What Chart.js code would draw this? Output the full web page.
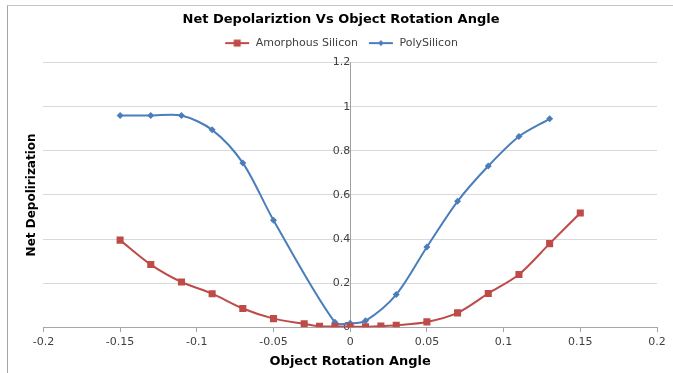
<!DOCTYPE html>
<html>
<head>
<meta charset="utf-8">
<script src="https://cdn.jsdelivr.net/npm/chart.js@4/dist/chart.umd.min.js"></script>
<style>
  html, body { margin: 0; padding: 0; background: #fff; }
  #wrap { position: relative; width: 673px; height: 373px; overflow: hidden; }
  #frame { position: absolute; left: 7px; top: 5px; width: 700px; height: 400px;
           border-left: 1px solid #a6a6a6; border-top: 1px solid #c4c4c4; }
  canvas { position: absolute; left: 0; top: 0; }
</style>
</head>
<body>
<div id="wrap">
  <div id="frame"></div>
  <canvas id="myChart" width="673" height="373"></canvas>
</div>
<script>
// ---------------- data ----------------
var amorphAngles = [-0.15, -0.13, -0.11, -0.09, -0.07, -0.05, -0.03, -0.02, -0.01, 0, 0.01, 0.02, 0.03, 0.05, 0.07, 0.09, 0.11, 0.13, 0.15];
var amorphValues = [0.395, 0.284, 0.205, 0.152, 0.085, 0.039, 0.015, 0.004, 0.003, 0.003, 0.002, 0.005, 0.009, 0.024, 0.065, 0.153, 0.239, 0.379, 0.518];

var polyAngles = [-0.15, -0.13, -0.11, -0.09, -0.07, -0.05, -0.01, 0, 0.01, 0.03, 0.05, 0.07, 0.09, 0.11, 0.13];
var polyValues = [0.96, 0.96, 0.96, 0.895, 0.745, 0.485, 0.022, 0.018, 0.029, 0.148, 0.364, 0.571, 0.731, 0.865, 0.945];

var seriesNames = ['Amorphous Silicon', 'PolySilicon'];
var xTicks = [-0.2, -0.15, -0.1, -0.05, 0, 0.05, 0.1, 0.15, 0.2];
var yTicks = [0, 0.2, 0.4, 0.6, 0.8, 1, 1.2];

var red = '#be4b48';
var blue = '#4a7ebb';
var font = 'DejaVu Sans';

function toPoints(xs, ys) {
  return xs.map(function (x, i) { return { x: x, y: ys[i] }; });
}

// legend sample: short line with the marker on it
function legendIcon(color, square) {
  var c = document.createElement('canvas');
  c.width = 26; c.height = 10;
  var g = c.getContext('2d');
  g.strokeStyle = color; g.lineWidth = 2;
  g.beginPath(); g.moveTo(1, 5); g.lineTo(25, 5); g.stroke();
  g.fillStyle = color;
  if (square) {
    g.fillRect(9.5, 1.5, 7, 7);
  } else {
    g.beginPath(); g.moveTo(13, 2); g.lineTo(16, 5); g.lineTo(13, 8); g.lineTo(10, 5); g.closePath(); g.fill();
  }
  return c;
}
var icons = [legendIcon(red, true), legendIcon(blue, false)];

// a little more room under the legend
var legendGap = {
  id: 'legendGap',
  beforeInit: function (chart) {
    var fit = chart.legend.fit;
    chart.legend.fit = function () {
      fit.call(this);
      this.height += 4;
    };
  },
};

const pickChart = document.getElementById('myChart');
const drawChart = new Chart(pickChart, {
  type: 'scatter',
  plugins: [legendGap],
  data: {
    datasets: [
      {
        label: seriesNames[0],
        data: toPoints(amorphAngles, amorphValues),
        showLine: true,
        borderColor: red,
        backgroundColor: red,
        borderWidth: 2,
        tension: 0.3,
        pointStyle: 'rect',
        pointRadius: 5,
        pointBorderWidth: 0,
      },
      {
        label: seriesNames[1],
        data: toPoints(polyAngles, polyValues),
        showLine: true,
        borderColor: blue,
        backgroundColor: blue,
        borderWidth: 2,
        tension: 0.3,
        pointStyle: 'rectRot',
        pointRadius: 3.5,
        pointBorderWidth: 0,
      },
    ],
  },
  options: {
    responsive: false,
    animation: false,
    layout: { padding: { left: 25, right: 16, top: 6, bottom: 4 } },
    plugins: {
      tooltip: { enabled: false },
      title: {
        display: true,
        text: 'Net Depolariztion Vs Object Rotation Angle',
        color: '#000',
        font: { family: font, size: 13, weight: 'bold' },
        padding: { top: 6, bottom: 0 },
      },
      legend: {
        display: true,
        labels: {
          color: '#404040',
          font: { family: font, size: 11 },
          usePointStyle: true,
          pointStyleWidth: 26,
          padding: 10,
          generateLabels: function (chart) {
            return chart.data.datasets.map(function (ds, i) {
              return {
                text: ds.label,
                pointStyle: icons[i],
                fillStyle: ds.borderColor,
                strokeStyle: ds.borderColor,
                lineWidth: 0,
                fontColor: '#404040',
                datasetIndex: i,
                hidden: false,
              };
            });
          },
        },
      },
    },
    scales: {
      x: {
        type: 'linear',
        min: -0.2,
        max: 0.2,
        afterBuildTicks: function (axis) { axis.ticks = xTicks.map(function (v) { return { value: v }; }); },
        ticks: {
          color: '#404040',
          font: { family: font, size: 11 },
          padding: 3,
          callback: function (v) { return String(+v.toFixed(2)); },
        },
        grid: { drawOnChartArea: false, drawTicks: true, tickLength: 5, color: '#a6a6a6' },
        border: { display: true, color: '#a6a6a6' },
        title: {
          display: true,
          text: 'Object Rotation Angle',
          color: '#000',
          font: { family: font, size: 13, weight: 'bold' },
          padding: { top: 2, bottom: 0 },
        },
      },
      y: {
        position: 'left',
        min: 0,
        max: 1.2,
        afterBuildTicks: function (axis) { axis.ticks = yTicks.map(function (v) { return { value: v }; }); },
        ticks: { display: false },
        grid: { color: '#d9d9d9', drawTicks: false },
        border: { display: false },
        title: {
          display: true,
          text: 'Net Depolirization',
          color: '#000',
          font: { family: font, size: 12, weight: 'bold' },
          padding: { top: 0, bottom: 4 },
        },
      },
      y2: {
        position: { x: 0 },
        min: 0,
        max: 1.2,
        afterBuildTicks: function (axis) { axis.ticks = yTicks.map(function (v) { return { value: v }; }); },
        ticks: {
          color: '#404040',
          font: { family: font, size: 11 },
          padding: 2,
          callback: function (v) { return String(+v.toFixed(1)); },
        },
        grid: { drawOnChartArea: false, drawTicks: true, tickLength: 3, tickColor: 'rgba(0,0,0,0)' },
        border: { display: true, color: '#a0a0a0' },
      },
    },
  },
});
</script>
</body>
</html>
